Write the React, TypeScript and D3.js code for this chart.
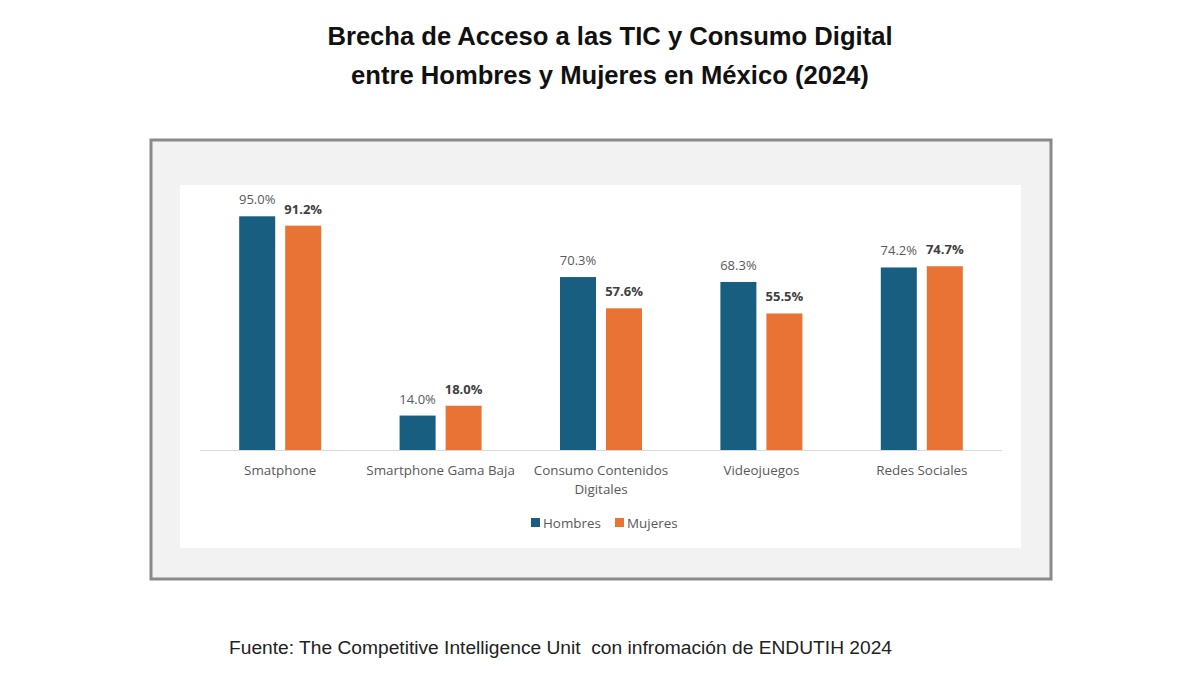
import React from 'react';
import * as d3 from 'd3';

const categories = ['Smatphone', 'Smartphone Gama Baja', 'Consumo Contenidos Digitales', 'Videojuegos', 'Redes Sociales'];
const categoryLines = [['Smatphone'], ['Smartphone Gama Baja'], ['Consumo Contenidos', 'Digitales'], ['Videojuegos'], ['Redes Sociales']];
const hombres = [95.0, 14.0, 70.3, 68.3, 74.2];
const mujeres = [91.2, 18.0, 57.6, 55.5, 74.7];
const seriesNames = ['Hombres', 'Mujeres'];
const seriesColors = ['#175e80', '#e87335'];

const App = () => {
  const width = 1200;
  const height = 675;
  const font = "'Open Sans', 'DejaVu Sans', sans-serif";
  const arial = "'Liberation Sans', Arial, sans-serif";

  // plot area inside the white panel
  const plot = { left: 200, right: 1002, baseline: 450, top: 204 };

  const x = d3.scaleBand<string>()
    .domain(categories)
    .range([plot.left, plot.right])
    .paddingInner(0)
    .paddingOuter(0);

  const groupWidth = 82;
  const x1 = d3.scaleBand<string>()
    .domain(seriesNames)
    .range([0, groupWidth])
    .paddingInner(10 / 46);

  const y = d3.scaleLinear()
    .domain([0, 100])
    .range([plot.baseline, plot.top]);

  const groupOffset = (x.bandwidth() - groupWidth) / 2;
  const values = [hombres, mujeres];

  return (
    <svg width={width} height={height} style={{ position: 'absolute', left: 0, top: 0, background: '#fff' }}>
      <text x={610} y={45} textAnchor="middle" fontFamily={arial} fontWeight="bold" fontSize={25.6} fill="#111">
        Brecha de Acceso a las TIC y Consumo Digital
      </text>
      <text x={610} y={84} textAnchor="middle" fontFamily={arial} fontWeight="bold" fontSize={25.6} fill="#111">
        entre Hombres y Mujeres en México (2024)
      </text>

      {/* outer frame */}
      <rect x={151} y={140} width={900} height={439} fill="#f2f2f2" stroke="#8a8a8a" strokeWidth={3} />
      {/* chart panel */}
      <rect x={180} y={185} width={841} height={363} fill="#fff" />

      <line x1={plot.left} x2={plot.right} y1={plot.baseline + 0.5} y2={plot.baseline + 0.5} stroke="#d9d9d9" strokeWidth={1} />

      {categories.map((c, i) => (
        <g key={c} transform={`translate(${x(c)! + groupOffset},0)`}>
          {seriesNames.map((s, j) => {
            const v = values[j][i];
            const bx = x1(s)!;
            return (
              <g key={s}>
                <rect x={bx} y={y(v)} width={x1.bandwidth()} height={plot.baseline - y(v)} fill={seriesColors[j]} />
                <text
                  x={bx + x1.bandwidth() / 2}
                  y={y(v) - 12}
                  textAnchor="middle"
                  fontFamily={font}
                  fontSize={13}
                  fontWeight={j === 1 ? 'bold' : 'normal'}
                  fill={j === 1 ? '#404040' : '#595959'}
                >
                  {v.toFixed(1)}%
                </text>
              </g>
            );
          })}
        </g>
      ))}

      {categoryLines.map((lines, i) => (
        <text key={i} x={x(categories[i])! + x.bandwidth() / 2} y={475} textAnchor="middle" fontFamily={font} fontSize={13.4} fill="#595959">
          {lines.map((l, k) => (
            <tspan key={k} x={x(categories[i])! + x.bandwidth() / 2} dy={k === 0 ? 0 : 19}>{l}</tspan>
          ))}
        </text>
      ))}

      {/* legend */}
      {seriesNames.map((s, j) => {
        const lx = j === 0 ? 531 : 615;
        return (
          <g key={s}>
            <rect x={lx} y={518} width={9} height={9} fill={seriesColors[j]} />
            <text x={lx + 12} y={528} fontFamily={font} fontSize={13.4} fill="#595959">{s}</text>
          </g>
        );
      })}

      <text x={229} y={654} fontFamily={arial} fontSize={19.2} fill="#222" style={{ whiteSpace: 'pre' }}>
        Fuente: The Competitive Intelligence Unit  con infromación de ENDUTIH 2024
      </text>
    </svg>
  );
};

export default App;
